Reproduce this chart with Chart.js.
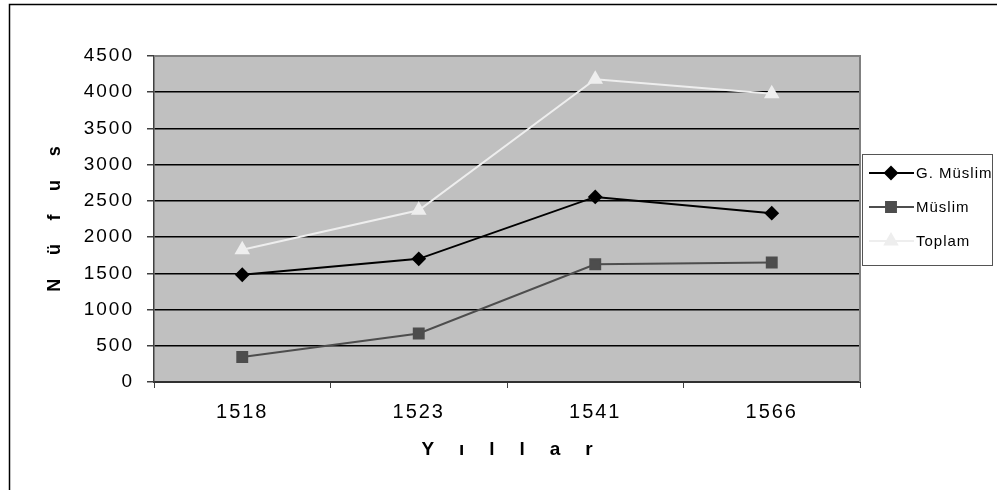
<!DOCTYPE html>
<html>
<head>
<meta charset="utf-8">
<script src="https://cdn.jsdelivr.net/npm/chart.js@4.4.0/dist/chart.umd.min.js"></script>
<style>
  html, body { margin: 0; padding: 0; background: #fff; }
  #wrap { width: 997px; height: 490px; }
</style>
</head>
<body>
<div id="wrap"><canvas id="nufusChart" width="997" height="490"></canvas></div>
<script>
// data
const years = ['1518', '1523', '1541', '1566'];
const gMuslim = [1480, 1700, 2555, 2330];
const muslim = [345, 670, 1625, 1650];
const toplam = [1825, 2370, 4180, 3980];
const seriesNames = ['G. Müslim', 'Müslim', 'Toplam'];

// wide letter gaps like the original axis titles
const sp = '\u00a0\u00a0\u00a0\u00a0\u2009';
function spaced(str) { return str.split('').join(sp); }

// white page + outer frame + grey plot area
const frame = {
  id: 'frame',
  beforeDraw(chart) {
    const c = chart.ctx, a = chart.chartArea;
    c.letterSpacing = '0px';
    c.save();
    c.fillStyle = '#fff';
    c.fillRect(0, 0, chart.width, chart.height);
    c.strokeStyle = '#000';
    c.lineWidth = 1.5;
    c.strokeRect(9.5, 4.5, 1200, 600);
    c.fillStyle = '#c0c0c0';
    c.fillRect(a.left, a.top, a.right - a.left, a.bottom - a.top);
    c.restore();
  },
  afterDatasetsDraw(chart) {
    const c = chart.ctx, a = chart.chartArea;
    c.save();
    c.strokeStyle = '#808080';
    c.lineWidth = 2;
    c.beginPath();
    c.moveTo(a.left, a.top);
    c.lineTo(a.right, a.top);
    c.lineTo(a.right, a.bottom);
    c.stroke();
    c.restore();
    // tick labels are drawn after this (ticks.z = 1), a bit spread out
    c.letterSpacing = '2px';
  }
};

// legend box on the right, like the old excel one
const sideLegend = {
  id: 'sideLegend',
  afterDraw(chart) {
    const c = chart.ctx;
    const x0 = 862, y0 = 154, w = 130, h = 111;
    c.letterSpacing = '0px';
    c.save();
    c.fillStyle = '#fff';
    c.fillRect(x0, y0, w, h);
    c.strokeStyle = '#555';
    c.lineWidth = 1;
    c.strokeRect(x0 + 0.5, y0 + 0.5, w, h);
    c.font = '15px "Liberation Sans", Arial, sans-serif';
    c.textBaseline = 'middle';
    chart.data.datasets.forEach((ds, i) => {
      const y = 173 + i * 34;
      c.strokeStyle = ds.borderColor;
      c.lineWidth = 2;
      c.beginPath();
      c.moveTo(869, y);
      c.lineTo(914, y);
      c.stroke();
      c.fillStyle = ds.pointBackgroundColor;
      c.strokeStyle = ds.pointBorderColor;
      Chart.helpers.drawPoint(c, {pointStyle: ds.pointStyle, radius: ds.pointRadius, borderWidth: 1}, 891, y);
      c.fillStyle = '#000';
      c.letterSpacing = '1px';
      c.fillText(ds.label, 916, y + 1);
      c.letterSpacing = '0px';
    });
    c.restore();
  }
};

const ctx = document.getElementById('nufusChart').getContext('2d');
const myChart = new Chart(ctx, {
  type: 'line',
  data: {
    labels: years,
    datasets: [
      {
        label: seriesNames[0],
        data: gMuslim,
        borderColor: '#000',
        borderWidth: 2,
        pointStyle: 'rectRot',
        pointRadius: 6,
        pointBackgroundColor: '#000',
        pointBorderColor: '#000',
        tension: 0
      },
      {
        label: seriesNames[1],
        data: muslim,
        borderColor: '#4d4d4d',
        borderWidth: 2,
        pointStyle: 'rect',
        pointRadius: 7,
        pointBackgroundColor: '#4d4d4d',
        pointBorderColor: '#4d4d4d',
        tension: 0
      },
      {
        label: seriesNames[2],
        data: toplam,
        borderColor: '#eeeeee',
        borderWidth: 2,
        pointStyle: 'triangle',
        pointRadius: 7,
        pointBackgroundColor: '#eeeeee',
        pointBorderColor: '#eeeeee',
        tension: 0
      }
    ]
  },
  options: {
    responsive: false,
    animation: false,
    devicePixelRatio: 1,
    layout: { padding: { left: 0, top: 56, right: 137, bottom: 0 } },
    plugins: {
      legend: { display: false },
      title: { display: false },
      tooltip: { enabled: false }
    },
    scales: {
      x: {
        offset: true,
        afterFit(s) { s.height = 108; },
        grid: {
          offset: true,
          drawOnChartArea: false,
          tickLength: 6,
          color: '#404040',
          lineWidth: 1
        },
        border: { display: true, color: '#303030', width: 2 },
        ticks: {
          z: 1,
          color: '#000',
          padding: 12,
          font: { family: '"Liberation Sans", Arial, sans-serif', size: 20 }
        },
        title: {
          display: true,
          text: spaced('Yıllar'),
          color: '#000',
          padding: { top: 0, bottom: 29 },
          font: { family: '"Liberation Sans", Arial, sans-serif', size: 19, weight: 'bold' }
        }
      },
      y: {
        min: 0,
        max: 4500,
        afterFit(s) { s.width = 154; },
        grid: {
          color: (c) => (c.tick && c.tick.value === 4500 ? '#808080' : '#000'),
          lineWidth: 1.5,
          tickLength: 7,
          tickColor: '#404040'
        },
        border: { display: true, color: '#404040', width: 1.5 },
        ticks: {
          z: 1,
          stepSize: 500,
          color: '#000',
          padding: 13,
          callback: (v) => String(v),
          font: { family: '"Liberation Sans", Arial, sans-serif', size: 19 }
        },
        title: {
          display: true,
          text: spaced('Nüfus'),
          color: '#000',
          padding: { top: 44, bottom: 0 },
          font: { family: '"Liberation Sans", Arial, sans-serif', size: 18, weight: 'bold' }
        }
      }
    }
  },
  plugins: [frame, sideLegend]
});
</script>
</body>
</html>
